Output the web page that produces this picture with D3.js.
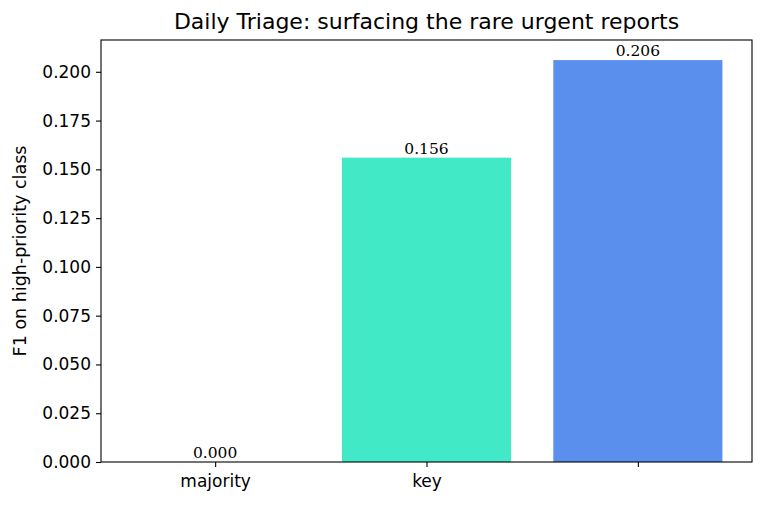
<!DOCTYPE html>
<html lang="en">
<head>
<meta charset="utf-8">
<title>Daily Triage</title>
<style>
  body { margin: 0; background: #fff; }
  text { font-family: "DejaVu Sans", sans-serif; fill: #000; }
  .tick text { font-size: 17px; }
  .value { font-family: "DejaVu Serif", serif; font-size: 15.5px; }
</style>
<script src="https://cdn.jsdelivr.net/npm/d3@7"></script>
</head>
<body>
<svg width="764" height="506"></svg>
<script>
const categories = ["majority", "key", "full"];
const tickLabels = ["majority", "key", ""];
const values = [0.000, 0.156, 0.206];
const colors = ["#ffffff", "#41e9c7", "#5b8fee"];
const yTicks = [0, 0.025, 0.05, 0.075, 0.1, 0.125, 0.15, 0.175, 0.2];

const svg = d3.select("svg");
const plot = { left: 101, right: 752, top: 40, bottom: 462 };

const x = d3.scaleLinear().domain([-0.54, categories.length - 1 + 0.54]).range([plot.left, plot.right]);
const y = d3.scaleLinear().domain([0, d3.max(values) * 1.05]).range([plot.bottom, plot.top]);
const barW = x(0.8) - x(0);

// bars
svg.append("g").selectAll("rect")
  .data(values)
  .join("rect")
  .attr("x", (d, i) => x(i) - barW / 2)
  .attr("y", d => y(d))
  .attr("width", barW)
  .attr("height", d => y(0) - y(d))
  .attr("fill", (d, i) => colors[i]);

// value labels
svg.append("g").selectAll("text")
  .data(values)
  .join("text")
  .attr("class", "value")
  .attr("x", (d, i) => x(i))
  .attr("y", d => y(d) - 4)
  .attr("text-anchor", "middle")
  .text(d => d.toFixed(3));

// axes
const yAxis = d3.axisLeft(y).tickValues(yTicks).tickFormat(d3.format(".3f")).tickSize(5).tickPadding(5);
svg.append("g").attr("transform", `translate(${plot.left},0)`).call(yAxis)
  .call(g => g.select(".domain").remove());

const xAxis = d3.axisBottom(x).tickValues(d3.range(categories.length))
  .tickFormat(i => tickLabels[i]).tickSize(5).tickPadding(8);
svg.append("g").attr("transform", `translate(0,${plot.bottom})`).call(xAxis)
  .call(g => g.select(".domain").remove());

svg.selectAll(".tick line").attr("stroke", "#000").attr("stroke-width", 1.1);
svg.selectAll(".tick text").attr("fill", "#000");

// frame
svg.append("rect")
  .attr("x", plot.left).attr("y", plot.top)
  .attr("width", plot.right - plot.left).attr("height", plot.bottom - plot.top)
  .attr("fill", "none").attr("stroke", "#000").attr("stroke-width", 1.1);

// title & label
svg.append("text")
  .attr("x", (plot.left + plot.right) / 2).attr("y", 29)
  .attr("text-anchor", "middle")
  .style("font-size", "22px")
  .text("Daily Triage: surfacing the rare urgent reports");

svg.append("text")
  .attr("transform", `translate(26,${(plot.top + plot.bottom) / 2}) rotate(-90)`)
  .attr("text-anchor", "middle")
  .style("font-size", "17.5px")
  .text("F1 on high-priority class");
</script>
</body>
</html>
